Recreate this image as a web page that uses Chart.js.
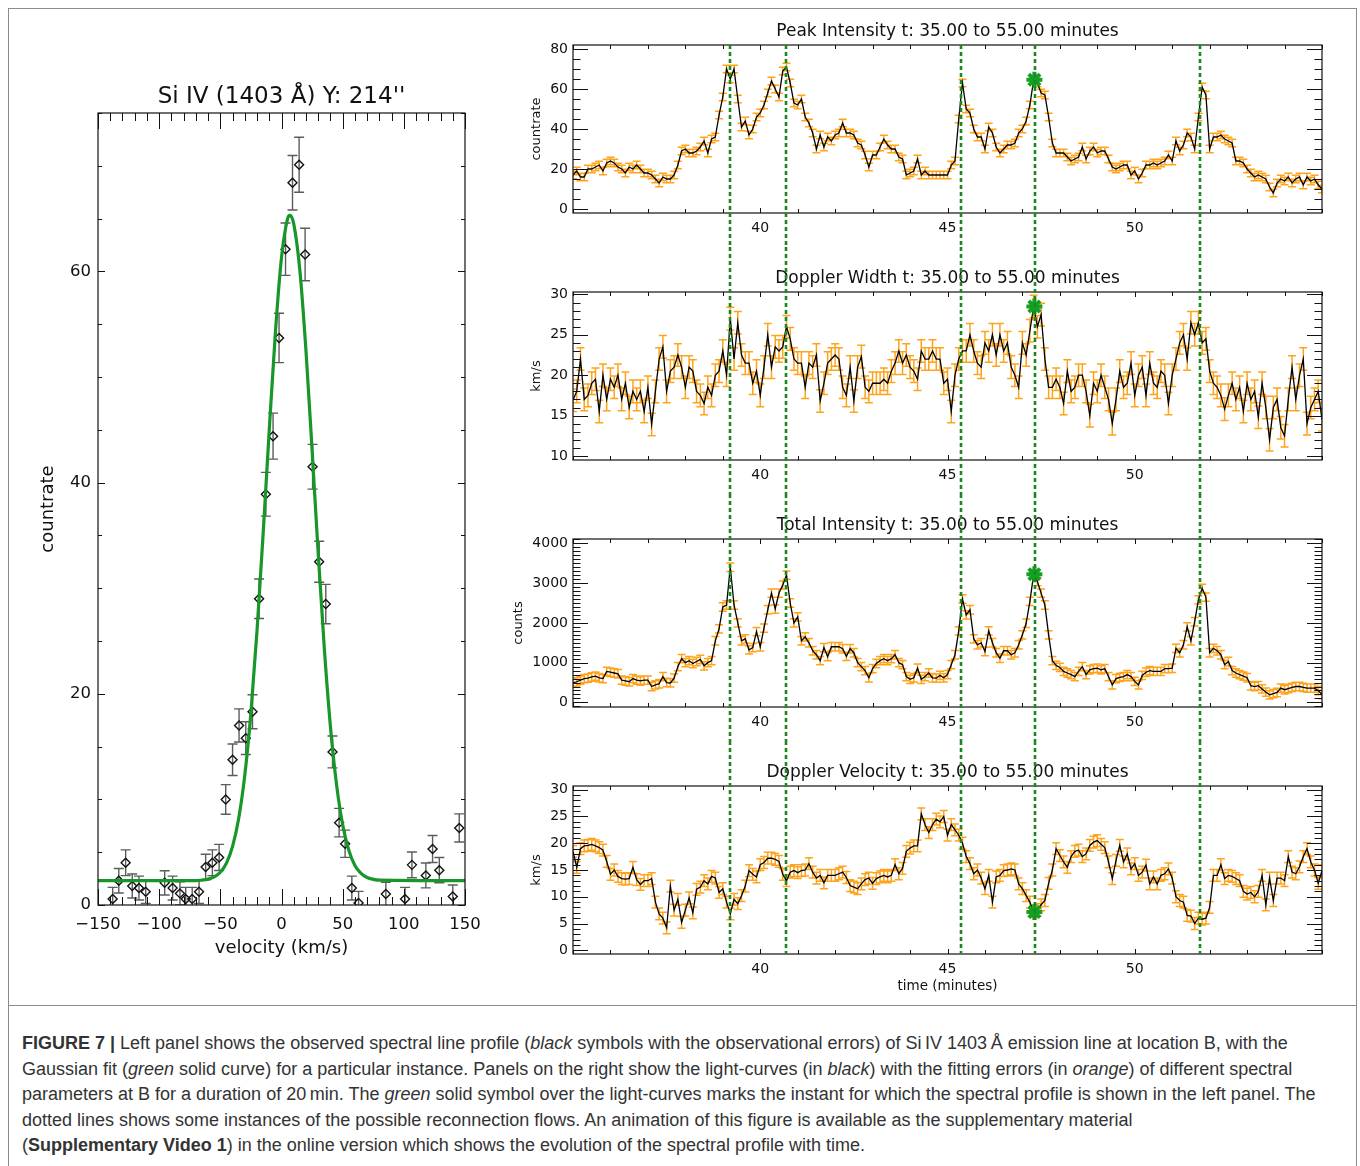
<!DOCTYPE html>
<html>
<head>
<meta charset="utf-8">
<title>Figure 7</title>
<script src="https://cdn.jsdelivr.net/npm/chart.js@4.4.1/dist/chart.umd.min.js"></script>
<style>
  html, body { margin: 0; padding: 0; background: #fff; }
  body { position: relative; width: 1360px; height: 1166px; overflow: hidden; }
  .box { position: absolute; left: 8px; top: 8px; width: 1347px; height: 1200px; border: 1px solid #8c8c8c; }
  .rule { position: absolute; left: 8px; top: 1005px; width: 1348px; height: 0; border-top: 1px solid #8c8c8c; }
  canvas { position: absolute; }
  .caption { position: absolute; left: 22px; top: 1031px; font-family: "Liberation Sans", Arial, sans-serif;
             font-size: 18px; line-height: 25.5px; color: #333; white-space: nowrap; }
</style>
</head>
<body>
<div class="box"></div>
<div class="rule"></div>
<canvas id="profile" width="520" height="1000" style="left:0;top:0"></canvas>
<canvas id="p0" width="860" height="247" style="left:500px;top:0"></canvas>
<canvas id="p1" width="860" height="247" style="left:500px;top:247px"></canvas>
<canvas id="p2" width="860" height="247" style="left:500px;top:494px"></canvas>
<canvas id="p3" width="860" height="260" style="left:500px;top:741px"></canvas>
<div class="caption">
<b>FIGURE 7 |</b> Left panel shows the observed spectral line profile (<i>black</i> symbols with the observational errors) of Si&thinsp;IV 1403&thinsp;Å emission line at location B, with the<br>
Gaussian fit (<i>green</i> solid curve) for a particular instance. Panels on the right show the light-curves (in <i>black</i>) with the fitting errors (in <i>orange</i>) of different spectral<br>
parameters at B for a duration of 20&thinsp;min. The <i>green</i> solid symbol over the light-curves marks the instant for which the spectral profile is shown in the left panel. The<br>
dotted lines shows some instances of the possible reconnection flows. An animation of this figure is available as the supplementary material<br>
(<b>Supplementary Video 1</b>) in the online version which shows the evolution of the spectral profile with time.
</div>
<script>
const FONT = 'DejaVu Sans';

// ---- left panel: Si IV line profile ----
const velocity = [-138,-133,-127.4,-122,-116.5,-111,-95.5,-89,-83,-78.3,-73,-67.4,-62,-56.5,-51,-45.6,-40,-34.7,
  -29.2,-23.7,-18.3,-12.8,-6.9,-2,3.3,9,14.4,19.3,25.4,30.8,36.2,41.7,47.1,52,57.5,63,85.3,101,106.6,118,123.5,129,140,145.3];
const countrate = [0.57,2.3,4.0,1.8,1.6,1.26,2.1,1.6,1.1,0.57,0.57,1.26,3.6,4.0,4.5,10.0,13.75,17.0,
  15.8,18.3,29.0,38.9,44.4,53.7,62.1,68.4,70.1,61.6,41.5,32.5,28.5,14.5,7.8,5.8,1.6,0.2,1.04,0.57,3.8,2.8,5.3,3.3,0.8,7.3];
const countrateErr = [1.1,1.16,1.22,1.14,1.13,1.12,1.15,1.13,1.1,1.1,1.1,1.12,1.21,1.22,1.24,1.4,1.49,1.57,
  1.55,1.61,1.87,2.07,2.18,2.34,2.48,2.58,2.6,2.48,2.12,1.94,1.86,1.51,1.35,1.29,1.13,1.09,1.11,1.1,1.22,1.18,1.28,1.2,1.1,1.33];
const fitVelocity = [-150,-70,-65,-60,-55,-50,-45,-40,-35,-30,-25,-20,-15,-10,-5,0,5,7,10,15,20,25,30,35,40,45,50,55,60,65,70,75,80,150];
const fitCountrate = [2.3,2.3,2.36,2.45,2.66,3.1,3.97,5.55,8.2,12.3,18.2,26.0,35.2,45.0,54.2,61.3,65.0,65.3,64.5,60.1,52.5,43.1,33.3,24.3,16.9,11.4,7.6,5.2,3.75,3.0,2.6,2.43,2.35,2.3];
const velocityTicks = [-150,-100,-50,0,50,100,150];
const countrateTicks = [0,20,40,60];

// ---- right panels: light-curves ----
const times = [
  35,35.1,35.2,35.3,35.4,35.5,35.6,35.7,35.8,35.9, 36,36.1,36.2,36.3,36.4,36.5,36.6,36.7,36.8,36.9,
  37,37.1,37.2,37.3,37.4,37.5,37.6,37.7,37.8,37.9, 38,38.1,38.2,38.3,38.4,38.5,38.6,38.7,38.8,38.9,
  39,39.1,39.2,39.3,39.4,39.5,39.6,39.7,39.8,39.9, 40,40.1,40.2,40.3,40.4,40.5,40.6,40.7,40.8,40.9,
  41,41.1,41.2,41.3,41.4,41.5,41.6,41.7,41.8,41.9, 42,42.1,42.2,42.3,42.4,42.5,42.6,42.7,42.8,42.9,
  43,43.1,43.2,43.3,43.4,43.5,43.6,43.7,43.8,43.9, 44,44.1,44.2,44.3,44.4,44.5,44.6,44.7,44.8,44.9,
  45,45.1,45.2,45.3,45.4,45.5,45.6,45.7,45.8,45.9, 46,46.1,46.2,46.3,46.4,46.5,46.6,46.7,46.8,46.9,
  47,47.1,47.2,47.3,47.4,47.5,47.6,47.7,47.8,47.9, 48,48.1,48.2,48.3,48.4,48.5,48.6,48.7,48.8,48.9,
  49,49.1,49.2,49.3,49.4,49.5,49.6,49.7,49.8,49.9, 50,50.1,50.2,50.3,50.4,50.5,50.6,50.7,50.8,50.9,
  51,51.1,51.2,51.3,51.4,51.5,51.6,51.7,51.8,51.9, 52,52.1,52.2,52.3,52.4,52.5,52.6,52.7,52.8,52.9,
  53,53.1,53.2,53.3,53.4,53.5,53.6,53.7,53.8,53.9, 54,54.1,54.2,54.3,54.4,54.5,54.6,54.7,54.8,54.9,55];
const peakIntensity = [
  17,19,16,16,20,20,21,22,19,23, 24,23,21,20,18,21,20,22,20,18,
  18,17,15,13,16,15,15,17,22,29, 30,28,28,29,31,34,28,35,36,47,
  56,70,65,70,55,41,44,37,40,46, 48,52,58,64,60,56,69,71,63,53,
  52,55,46,43,38,30,37,31,36,34, 37,38,43,38,38,37,33,32,27,21,
  27,27,31,35,32,30,30,26,25,17, 18,19,25,17,19,17,17,17,17,17,
  17,22,24,45,63,50,48,40,36,36, 30,41,38,31,28,30,32,32,33,38,
  40,44,52,64.6,63,58,57,46,33,28, 28,28,26,24,25,26,31,25,29,31,
  28,29,29,25,21,20,21,22,22,17, 19,15,18,22,22,23,22,23,24,27,
  24,34,29,32,38,36,30,46,61,57, 30,36,36,37,35,34,33,24,24,23,
  20,18,16,17,16,15,11,8,13,15, 14,16,13,15,16,12,16,14,15,12,10];
const dopplerWidth = [
  16.9,18,22,17,17.5,19,19.5,15.5,20,17, 19.5,18.5,20,17,19,16,18,17,18,15.5,
  18.5,13.9,18,22,23.5,18,20.5,21,22.5,21, 18.5,21,20.5,18,17.5,16.5,18.5,17.5,20,20.5,
  23,20,27,22,26.5,22.5,21.5,21.5,19,20.5, 17.5,21,25,21,23.5,23,23.5,26,24.5,22,
  21.5,21.5,18.5,21.5,21,22.5,16.8,19,21.5,22, 22.5,22,18.5,17.5,21,16.8,21,22.3,18.5,18,
  19,19,19,19.5,19,20.5,21.5,23,21.5,22.5, 21,20.5,19.5,23,22,22,23,22,22,19,
  19.5,15.5,20,22,23,23,25,23,21.5,21, 24,23,25,22.5,25,23,24,21,20,18.5,
  24,22.5,25.5,28.5,26,27.5,22,18.5,18.5,19.5, 18.5,16.5,20.5,18,18.5,20,20,18,15,19,
  18,20,18.5,17,14,17,20.5,18.5,19,21.5, 17.5,20,21,17.5,21.5,19,18.5,20.5,20,16.5,
  20,22,24,25,22,26.5,25,26.5,24,24.5, 20.5,19,18.5,17.5,15.8,17.5,19,17,18.5,15.5,
  19,17,18,14.8,19,16,12,16,17,13.5, 12.5,17,21,17,20,22,14,16,17,18,14.5];
const totalIntensity = [
  490,520,560,600,610,640,660,620,600,780, 760,740,720,560,540,520,600,560,540,560,
  560,400,440,470,650,500,490,610,900,1100, 1000,1050,980,1030,1080,920,1000,1050,1550,1850,
  2400,2450,3400,2450,2000,1550,1600,1320,1380,1780, 1400,1870,2330,2750,2350,2750,2950,3200,2500,2000,
  2150,1550,1650,1500,1300,1200,1050,1380,1150,1400, 1400,1400,1350,1160,1350,1250,1000,900,800,620,
  850,980,1050,1100,1050,1100,1200,1000,950,650, 580,620,860,580,650,740,620,610,680,620,
  700,950,1200,1800,2600,2200,2330,1600,1450,1500, 1280,1800,1500,1250,1110,1300,1300,1200,1250,1450,
  1700,1990,2540,3220,3040,2750,2450,1700,1050,930, 880,780,740,700,650,780,900,700,820,850,
  860,820,850,650,440,600,630,650,700,650, 530,440,680,760,800,780,780,780,850,850,
  860,1360,1250,1450,1900,1550,2030,2580,2870,2650, 1250,1360,1300,1200,950,1030,800,740,700,660,
  620,420,400,420,340,260,190,220,250,360, 320,350,380,400,400,380,360,360,360,300,200];
const dopplerVelocity = [
  18.5,15.5,19,19.5,19.6,19.8,19.5,19.2,18.7,16.6, 14.2,15,13.8,13.4,13.3,13.4,15.5,13.2,12.3,13,
  13,13.4,9,6.8,6,4.2,12,7.5,9.5,5.2, 7.5,9.8,7,11.4,11.8,13,12.4,13.8,13.5,10.8,
  11.5,9,6.8,9.5,8.7,10.2,12,14.9,14.2,13.7, 16,16.4,17.2,17.2,17,16.6,14.2,13,14.6,14.9,
  14.5,14.9,15,16.2,14.6,13.5,14,12.6,14,14, 14,14.3,14.6,13.6,12.1,11.8,11.5,12.4,13.2,13.5,
  12.5,13.4,13.7,14,13.7,14,16,14.3,15.3,18.5, 19.1,19.5,19.5,25.5,23.5,22,23.5,24.5,24,25,
  21.5,23.5,22.5,21.5,20,17.5,16.2,14.3,15,13.5, 11.5,14,9,13.7,14,14.9,15,15.2,15,12.4,
  11.5,10.2,9,7.2,7.6,8.5,9.3,12.5,15,19, 17.7,16.5,15.5,17.5,18.5,18.7,17.5,18,19.6,20.2,
  20.5,19.8,19.2,16.5,13.4,16.8,19.6,16.5,18,15.2, 16.2,14,14.6,15.9,12.4,13.7,12.4,14,14.3,15.2,
  13.5,10,9.3,9,6.5,6.4,5,6,5.8,6, 8,14,14,16,13.4,14,13.8,13.4,13,11,
  10.5,10.8,10,11,14,8.5,13.5,9.3,13.5,13.5, 13,17.5,14.6,14.3,15.6,17.5,19,16.5,15,12.5,14.9];
const fitErrors = [1.9, 1.4, 105, 1.1];
const timeTicks = [40, 45, 50];
const peakTicks = [0, 20, 40, 60, 80];
const widthTicks = [10, 15, 20, 25, 30];
const totalTicks = [0, 1000, 2000, 3000, 4000];
const speedTicks = [0, 5, 10, 15, 20, 25, 30];
const flowTimes = [39.18, 40.69, 45.36, 47.33, 51.73];
const snapshotTime = 47.32;
const snapshotValues = [64.6, 28.5, 3224, 7.15];

// ---- plugins ----
const errorBars = {
  id: 'errorBars',
  beforeDatasetsDraw(chart, args, o) {
    if (o.err === undefined) return;
    const { ctx, chartArea: a } = chart;
    const xs = chart.scales.x, ys = chart.scales.y;
    const pts = chart.data.datasets[o.dataset].data;
    ctx.save();
    ctx.beginPath();
    ctx.rect(a.left, a.top, a.width, a.height);
    ctx.clip();
    ctx.strokeStyle = o.color;
    ctx.lineWidth = o.width;
    ctx.beginPath();
    pts.forEach((p, i) => {
      const e = Array.isArray(o.err) ? o.err[i] : o.err;
      const x = xs.getPixelForValue(p.x);
      const lo = ys.getPixelForValue(p.y - e), hi = ys.getPixelForValue(p.y + e);
      ctx.moveTo(x, lo); ctx.lineTo(x, hi);
      ctx.moveTo(x - o.cap, lo); ctx.lineTo(x + o.cap, lo);
      ctx.moveTo(x - o.cap, hi); ctx.lineTo(x + o.cap, hi);
    });
    ctx.stroke();
    ctx.restore();
  }
};

function tickMarks(scale, m) {
  const out = [];
  const first = Math.ceil((scale.min - 1e-9) / m.minor);
  const last = Math.floor((scale.max + 1e-9) / m.minor);
  for (let i = first; i <= last; i++) {
    const v = i * m.minor;
    const major = m.major.some(t => Math.abs(t - v) < 1e-6);
    out.push([Math.round(scale.getPixelForValue(v)) + 0.5, major ? m.majorLen : m.minorLen]);
  }
  return out;
}

// box frame with inward ticks on all four sides, IDL style
const idlAxes = {
  id: 'idlAxes',
  afterDatasetsDraw(chart, args, o) {
    if (!o.x) return;
    const { ctx, chartArea: a } = chart;
    ctx.save();
    ctx.strokeStyle = '#111';
    ctx.lineWidth = 1.2;
    ctx.strokeRect(a.left, a.top, a.width, a.height);
    ctx.lineWidth = 1;
    ctx.beginPath();
    tickMarks(chart.scales.x, o.x).forEach(([px, len]) => {
      ctx.moveTo(px, a.bottom); ctx.lineTo(px, a.bottom - len);
      ctx.moveTo(px, a.top); ctx.lineTo(px, a.top + len);
    });
    tickMarks(chart.scales.y, o.y).forEach(([py, len]) => {
      ctx.moveTo(a.left, py); ctx.lineTo(a.left + len, py);
      ctx.moveTo(a.right, py); ctx.lineTo(a.right - len, py);
    });
    ctx.stroke();
    ctx.restore();
  }
};

const markLines = {
  id: 'markLines',
  afterDraw(chart, args, o) {
    if (!o.times) return;
    const { ctx, chartArea: a } = chart;
    const xs = chart.scales.x;
    const y0 = o.fromArea ? a.top : 0;
    const y1 = o.toArea ? a.bottom : chart.height;
    ctx.save();
    ctx.strokeStyle = '#1a8a1f';
    ctx.lineWidth = 2.6;
    ctx.setLineDash([4, 3]);
    o.times.forEach(t => {
      const x = Math.round(xs.getPixelForValue(t));
      ctx.beginPath();
      ctx.moveTo(x, y0);
      ctx.lineTo(x, y1);
      ctx.stroke();
    });
    ctx.restore();
  }
};

const noGrid = { display: false, drawTicks: false };
const noBorder = { display: false };
const font = (size) => ({ family: FONT, size: size, weight: 'normal', lineHeight: 1 });
const plain = v => String(v);

// ---- left chart ----
new Chart(document.getElementById('profile'), {
  type: 'line',
  data: {
    datasets: [
      {
        data: fitVelocity.map((v, i) => ({ x: v, y: fitCountrate[i] })),
        borderColor: '#17962a', borderWidth: 3.2, pointRadius: 0, cubicInterpolationMode: 'monotone'
      },
      {
        data: velocity.map((v, i) => ({ x: v, y: countrate[i] })),
        showLine: false, pointStyle: 'rectRot', pointRadius: 4.5,
        borderColor: '#111', backgroundColor: 'rgba(255,255,255,0)', borderWidth: 1.4
      }
    ]
  },
  options: {
    responsive: false, animation: false,
    layout: { padding: { left: 0, right: 55, top: 0, bottom: 0 } },
    plugins: {
      legend: { display: false }, tooltip: { enabled: false },
      title: {
        display: true, text: "Si IV (1403 Å) Y: 214''", fullSize: false, color: '#111',
        font: font(23), padding: { top: 85.5, bottom: 4.5 }
      },
      errorBars: { dataset: 1, err: countrateErr, color: '#5c5c5c', width: 1.4, cap: 5 },
      idlAxes: {
        x: { major: velocityTicks, minor: 10, majorLen: 16, minorLen: 8 },
        y: { major: countrateTicks, minor: 5, majorLen: 7, minorLen: 4 }
      }
    },
    scales: {
      x: {
        type: 'linear', min: -150, max: 150,
        afterBuildTicks: s => { s.ticks = velocityTicks.map(v => ({ value: v })); },
        afterFit: s => { s.height = 95; },
        grid: noGrid, border: noBorder,
        ticks: { autoSkip: false, maxRotation: 0, padding: 11.75, color: '#111', font: font(16.5),
                 callback: v => (v < 0 ? '\u2212' + Math.abs(v) : String(v)) },
        title: { display: true, text: 'velocity (km/s)', color: '#111', font: font(18), padding: { top: 0, bottom: 43 } }
      },
      y: {
        type: 'linear', min: 0, max: 75,
        afterBuildTicks: s => { s.ticks = countrateTicks.map(v => ({ value: v })); },
        afterFit: s => { s.width = 98; },
        grid: noGrid, border: noBorder,
        ticks: { autoSkip: false, padding: 7, color: '#111', font: font(16.5), callback: plain },
        title: { display: true, text: 'countrate', color: '#111', font: font(18), padding: { top: 39, bottom: 0 } }
      }
    }
  },
  plugins: [errorBars, idlAxes]
});

// ---- right charts ----
const panels = [
  { id: 'p0', title: 'Peak Intensity t: 35.00 to 55.00 minutes', yTitle: 'countrate', values: peakIntensity,
    ticks: peakTicks, min: -2, max: 82, minor: 5, titlePad: 30.5 },
  { id: 'p1', title: 'Doppler Width t: 35.00 to 55.00 minutes', yTitle: 'km/s', values: dopplerWidth,
    ticks: widthTicks, min: 9.5, max: 30.3, minor: 1, titlePad: 30 },
  { id: 'p2', title: 'Total Intensity t: 35.00 to 55.00 minutes', yTitle: 'counts', values: totalIntensity,
    ticks: totalTicks, min: -115, max: 4110, minor: 100, titlePad: 12.5 },
  { id: 'p3', title: 'Doppler Velocity t: 35.00 to 55.00 minutes', yTitle: 'km/s', values: dopplerVelocity,
    ticks: speedTicks, min: -0.7, max: 30.7, minor: 1, titlePad: 30 }
];

panels.forEach((d, n) => {
  const last = n === panels.length - 1;
  new Chart(document.getElementById(d.id), {
    type: 'line',
    data: {
      datasets: [
        {
          data: [{ x: snapshotTime, y: snapshotValues[n] }],
          showLine: false, pointStyle: 'star', pointRadius: 8, borderColor: '#16a023', borderWidth: 4
        },
        {
          data: times.map((t, i) => ({ x: t, y: d.values[i] })),
          borderColor: '#000', borderWidth: 1.3, pointRadius: 0
        }
      ]
    },
    options: {
      responsive: false, animation: false,
      layout: { padding: { left: 0, right: 38, top: 0, bottom: 0 } },
      plugins: {
        legend: { display: false }, tooltip: { enabled: false },
        title: {
          display: true, text: d.title, fullSize: false, color: '#111',
          font: font(17), padding: { top: 23.5, bottom: 4.5 }
        },
        errorBars: { dataset: 1, err: fitErrors[n], color: '#ffa31a', width: 1.5, cap: 4 },
        idlAxes: {
          x: { major: timeTicks, minor: 1, majorLen: 5, minorLen: 4 },
          y: { major: d.ticks, minor: d.minor, majorLen: 15, minorLen: 7.5 }
        },
        markLines: { times: flowTimes, fromArea: n === 0, toArea: last }
      },
      scales: {
        x: {
          type: 'linear', min: 35, max: 55,
          afterBuildTicks: s => { s.ticks = timeTicks.map(v => ({ value: v })); },
          afterFit: s => { s.height = last ? 47 : 34; },
          grid: noGrid, border: noBorder,
          ticks: { autoSkip: false, maxRotation: 0, padding: 8, color: '#111', font: font(14), callback: plain },
          title: { display: last, text: 'time (minutes)', color: '#111', font: font(13.5), padding: { top: 0, bottom: 8.25 } }
        },
        y: {
          type: 'linear', min: d.min, max: d.max,
          afterBuildTicks: s => { s.ticks = d.ticks.map(v => ({ value: v })); },
          afterFit: s => { s.width = 73; },
          grid: noGrid, border: noBorder,
          ticks: { autoSkip: false, padding: 5, color: '#111', font: font(14), callback: plain },
          title: { display: true, text: d.yTitle, color: '#111', font: font(13), padding: { top: d.titlePad, bottom: 0 } }
        }
      }
    },
    plugins: [errorBars, idlAxes, markLines]
  });
});
</script>
</body>
</html>
